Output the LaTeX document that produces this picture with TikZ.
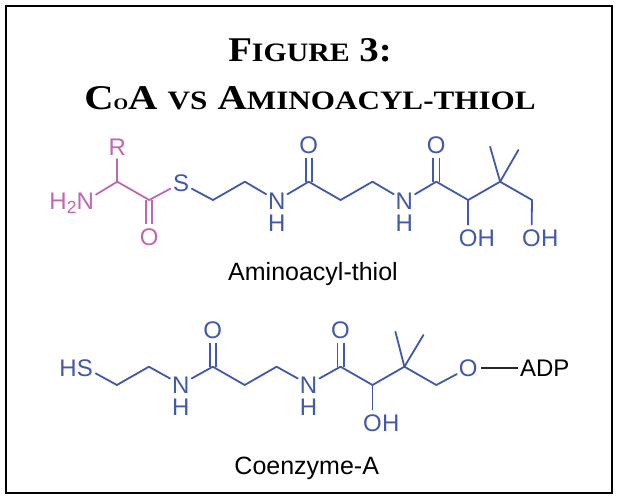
\documentclass[tikz,border=0pt]{standalone}
\usepackage{fontspec}
\usepackage{graphicx}
\newfontfamily\titlefont{Liberation Serif}
\newfontfamily\chemfont{Liberation Sans}
\definecolor{pinkc}{HTML}{C066B2}
\definecolor{bluec}{HTML}{4258A8}
\newcommand\tbig[1]{{\fontsize{34.7}{40}\selectfont #1}}
\newcommand\tsmall[1]{{\fontsize{26.6}{30}\selectfont #1}}
\newcommand\tsub[1]{{\fontsize{17.5}{17.5}\selectfont\raisebox{-3.5pt}{#1}}}
\tikzset{
  atom/.style={circle, inner sep=0pt, minimum size=24pt, text height=17.2pt, text depth=0pt,
    font=\chemfont\fontsize{24}{24}\selectfont},
  hlab/.style={inner sep=0pt, font=\chemfont\fontsize{24}{24}\selectfont},
  hbelow/.style={hlab, text height=17.2pt, text depth=0pt, text=bluec},
  pinkatom/.style={atom, text=pinkc},
  blueatom/.style={atom, text=bluec},
  pinkbond/.style={draw=pinkc, line width=1.8pt, line cap=round, line join=round},
  bluebond/.style={draw=bluec, line width=1.8pt, line cap=round, line join=round},
  dbl/.style={double=white, double distance=4.4pt, line cap=butt},
  caption/.style={inner sep=0pt, font=\chemfont\fontsize{25}{25}\selectfont},
}
\begin{document}
\begin{tikzpicture}[x=1pt,y=-1pt]
\useasboundingbox (0,0) rectangle (619,500);
\fill[white] (0,0) rectangle (619,500);
\draw[line width=2.3pt] (6.3,6.2) rectangle (612.3,492.8);

% title
\node[anchor=base, inner sep=0pt] (t1) at (310,61.7)
  {\titlefont\bfseries\scalebox{1.12}[1]{\tbig{F}\tsmall{IGURE}\tbig{ 3:}}};
\node[anchor=base, inner sep=0pt] (t2) at (310,110)
  {\titlefont\bfseries\scalebox{1.17}[1]{\tbig{C}{\fontsize{16}{16}\selectfont O}\tbig{A}\tbig{ }\tsmall{VS}\tbig{ }\tbig{A}\tsmall{MINOACYL-THIOL}}};

% ---------- Aminoacyl-thiol ----------
\coordinate (a0) at (117.3,181.7);
\coordinate (a1) at (149.2,200);
\coordinate (b1) at (213.0,200);
\coordinate (b2) at (244.9,181.7);
\coordinate (b3) at (308.7,181.7);
\coordinate (b4) at (340.6,200);
\coordinate (b5) at (372.5,181.7);
\coordinate (b6) at (436.3,181.7);
\coordinate (b7) at (468.2,200);
\coordinate (b8) at (500.1,181.7);
\coordinate (b9) at (532.0,200);
\coordinate (m1) at (490.1,146.7);
\coordinate (m2) at (518.4,150);

\node[pinkatom] (R) at (117.3,146.7) {R};
\node[pinkatom] (N0) at (85.4,201) {N};
\node[hlab, text=pinkc, anchor=base east] (H0) at ([xshift=-8.7pt]N0.base) {H\tsub{2}};
\node[pinkatom] (O0) at (149.2,237.3) {O};
\node[blueatom] (S1) at (181.1,183) {S};
\node[blueatom] (N1) at (276.8,200.5) {N};
\node[hbelow] (H1) at ([yshift=-22pt]N1.center) {H};
\node[blueatom] (O1) at (308.7,145) {O};
\node[blueatom] (N2) at (404.4,200.5) {N};
\node[hbelow] (H2) at ([yshift=-22pt]N2.center) {H};
\node[blueatom] (O2) at (436.3,145) {O};
\node[blueatom] (O3) at (468.2,237.5) {O};
\node[hlab, text=bluec, anchor=base west] (H3) at ([xshift=9.3pt]O3.base) {H};
\node[blueatom] (O4) at (531.5,237.5) {O};
\node[hlab, text=bluec, anchor=base west] (H4) at ([xshift=9.3pt]O4.base) {H};

\draw[pinkbond, dbl] (a1) -- (O0);
\draw[bluebond, dbl] (b3) -- (O1);
\draw[bluebond, dbl] (b6) -- (O2);
\draw[pinkbond] (R) -- (a0);
\draw[pinkbond] (N0) -- (a0);
\draw[pinkbond] (a0) -- (a1);
\draw[pinkbond] (a1) -- (S1);
\draw[bluebond] (S1) -- (b1);
\draw[bluebond] (b1) -- (b2);
\draw[bluebond] (b2) -- (N1);
\draw[bluebond] (N1) -- (b3);
\draw[bluebond] (b3) -- (b4);
\draw[bluebond] (b4) -- (b5);
\draw[bluebond] (b5) -- (N2);
\draw[bluebond] (N2) -- (b6);
\draw[bluebond] (b6) -- (b7);
\draw[bluebond] (b7) -- (O3);
\draw[bluebond] (b7) -- (b8);
\draw[bluebond] (b8) -- (m1);
\draw[bluebond] (b8) -- (m2);
\draw[bluebond] (b8) -- (b9);
\draw[bluebond] (b9) -- (O4);

\node[caption, anchor=base] (cap1) at (313,280) {Aminoacyl-thiol};

% ---------- Coenzyme-A ----------
\coordinate (c1) at (116.9,385);
\coordinate (c2) at (148.9,366.7);
\coordinate (c3) at (212.8,366.7);
\coordinate (c4) at (244.7,385);
\coordinate (c5) at (276.6,366.7);
\coordinate (c6) at (340.5,366.7);
\coordinate (c7) at (372.5,385);
\coordinate (c8) at (404.4,366.7);
\coordinate (c9) at (436.3,385);
\coordinate (m3) at (395.4,331.7);
\coordinate (m4) at (423.4,335);

\node[blueatom] (S2) at (85,367.5) {S};
\node[hlab, text=bluec, anchor=base east] (H5) at ([xshift=-8pt]S2.base) {H};
\node[blueatom] (N3) at (180.8,384.5) {N};
\node[hbelow] (H6) at ([yshift=-22pt]N3.center) {H};
\node[blueatom] (O5) at (212.8,330) {O};
\node[blueatom] (N4) at (308.6,384.5) {N};
\node[hbelow] (H7) at ([yshift=-22pt]N4.center) {H};
\node[blueatom] (O6) at (340.5,330) {O};
\node[blueatom] (O7) at (372.5,422.5) {O};
\node[hlab, text=bluec, anchor=base west] (H8) at ([xshift=9.3pt]O7.base) {H};
\node[blueatom] (O8) at (468.3,368) {O};
\node[hlab, anchor=west, inner sep=1.5pt, text height=17.2pt, text depth=0pt] (ADP) at (518.3,368) {ADP};

\draw[bluebond, dbl] (c3) -- (O5);
\draw[bluebond, dbl] (c6) -- (O6);
\draw[bluebond] (S2) -- (c1);
\draw[bluebond] (c1) -- (c2);
\draw[bluebond] (c2) -- (N3);
\draw[bluebond] (N3) -- (c3);
\draw[bluebond] (c3) -- (c4);
\draw[bluebond] (c4) -- (c5);
\draw[bluebond] (c5) -- (N4);
\draw[bluebond] (N4) -- (c6);
\draw[bluebond] (c6) -- (c7);
\draw[bluebond] (c7) -- (O7);
\draw[bluebond] (c7) -- (c8);
\draw[bluebond] (c8) -- (m3);
\draw[bluebond] (c8) -- (m4);
\draw[bluebond] (c8) -- (c9);
\draw[bluebond] (c9) -- (O8);
\draw[line width=1.3pt, black!85] (O8) -- (ADP);

\node[caption, anchor=base] (cap2) at (306.7,474) {Coenzyme-A};
\end{tikzpicture}
\end{document}
